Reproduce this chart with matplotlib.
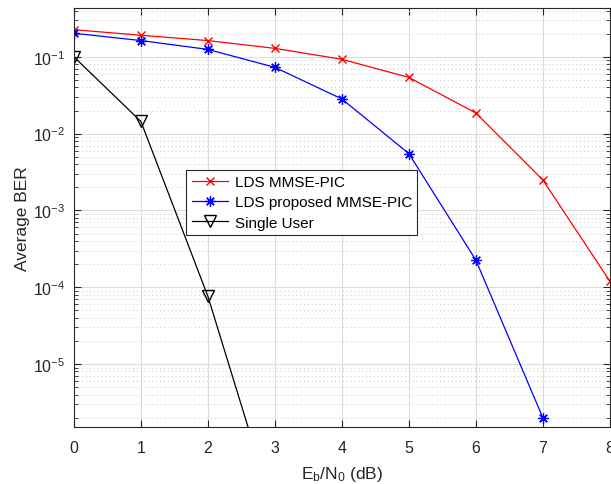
import matplotlib
matplotlib.use("Agg")
import matplotlib.pyplot as plt
from matplotlib.ticker import LogLocator, NullFormatter

plt.rcParams["font.family"] = ["Liberation Sans", "DejaVu Sans"]
plt.rcParams["mathtext.fontset"] = "custom"
plt.rcParams["mathtext.rm"] = "Liberation Sans"
plt.rcParams["mathtext.it"] = "Liberation Sans"

# Eb/N0 (dB)
snr_db = [0, 1, 2, 3, 4, 5, 6, 7, 8]
ber_mmse_pic = [0.226, 0.191, 0.163, 0.129, 0.093, 0.054, 0.0186, 0.0025, 1.2e-4]

snr_db_prop = [0, 1, 2, 3, 4, 5, 6, 7]
ber_prop = [0.203, 0.163, 0.125, 0.073, 0.0283, 0.0055, 2.26e-4, 2.0e-6]

snr_db_single = [0, 1, 2, 3]
ber_single = [0.1, 0.0144, 7.6e-5, 1.1e-7]

labels = ["LDS MMSE-PIC", "LDS proposed MMSE-PIC", "Single User"]

fig = plt.figure(figsize=(6.11, 4.85), dpi=100)
ax = fig.add_axes([0.121, 0.117, 0.877, 0.864])

ax.semilogy(snr_db, ber_mmse_pic, "-", color="#ff0000", marker="x",
            markersize=6, linewidth=0.9, label=labels[0])
ax.semilogy(snr_db_prop, ber_prop, "-", color="#0000ff", marker=(8, 2, 0),
            markersize=7.5, linewidth=0.9, markeredgewidth=0.9, label=labels[1])
ax.semilogy(snr_db_single, ber_single, "-", color="black", marker="v",
            markerfacecolor="none", markersize=8, linewidth=0.9, label=labels[2])

ax.set_xlim(0, 8)
ax.set_ylim(1.5e-6, 0.43)
ax.set_xticks(range(0, 9))
ax.yaxis.set_major_locator(LogLocator(base=10, numticks=12))
ax.yaxis.set_minor_locator(LogLocator(base=10, subs=range(2, 10), numticks=12))
ax.yaxis.set_minor_formatter(NullFormatter())

ax.grid(True, which="major", color="#dcdcdc", linewidth=0.8, linestyle="-")
ax.grid(True, which="minor", axis="y", color="#c8c8c8", linewidth=0.7, linestyle=(0, (1, 3)))
ax.set_axisbelow(True)

ax.tick_params(which="both", direction="in", top=True, right=True,
               labelsize=11.5, colors="#262626")
ax.tick_params(which="major", length=5, width=0.8)
ax.tick_params(which="minor", length=3, width=0.6)
ax.tick_params(axis="x", which="major", pad=9)
ax.tick_params(axis="y", which="major", pad=6)
for s in ax.spines.values():
    s.set_color("#262626")
    s.set_linewidth(0.8)

ax.set_xlabel(r"E$_{\rm b}$/N$_{\rm 0}$ (dB)", fontsize=12.5, color="#262626", labelpad=7)
ax.set_ylabel("Average BER", fontsize=12.5, color="#262626", labelpad=2)

leg = ax.legend(loc="upper left", bbox_to_anchor=(0.21, 0.614), fontsize=11,
                fancybox=False, edgecolor="#262626", framealpha=1,
                handlelength=2.4, borderpad=0.35, labelspacing=0.4,
                handletextpad=0.4, borderaxespad=0)
leg.get_frame().set_linewidth(0.8)

fig.savefig("out.png", dpi=100)
